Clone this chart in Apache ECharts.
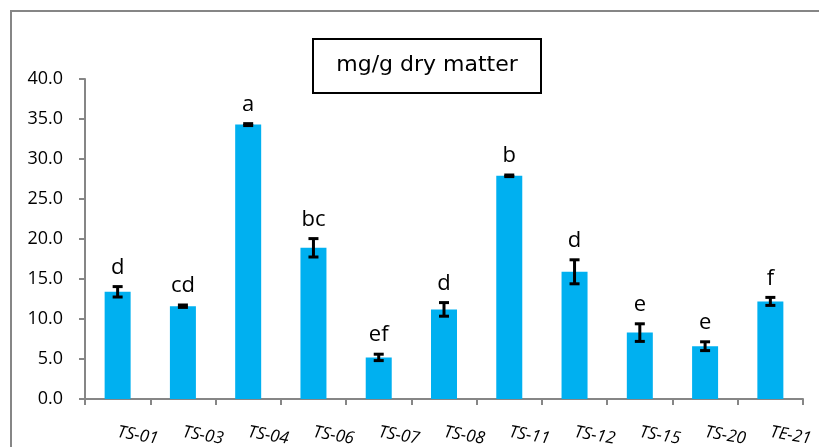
<!DOCTYPE html>
<html><head><meta charset="utf-8">
<script src="https://cdn.jsdelivr.net/npm/echarts@6/dist/echarts.min.js"></script>
<style>html,body{margin:0;padding:0;background:#fff}#c{width:819px;height:447px}</style>
</head><body><div id="c"></div>
<script>
const categories = ['TS-01','TS-03','TS-04','TS-06','TS-07','TS-08','TS-11','TS-12','TS-15','TS-20','TE-21'];
const values = [13.4, 11.6, 34.3, 18.9, 5.2, 11.2, 27.9, 15.9, 8.3, 6.6, 12.2];
const errors = [0.65, 0.15, 0.12, 1.15, 0.4, 0.85, 0.1, 1.5, 1.1, 0.55, 0.5];
const letters = ['d','cd','a','bc','ef','d','b','d','e','e','f'];
const yTicks = [0, 5, 10, 15, 20, 25, 30, 35, 40];
const titleText = 'mg/g dry matter';

const chart = echarts.init(document.getElementById('c'), null, {renderer:'canvas'});
const errData = categories.map((c,i)=>[i, values[i], errors[i], letters[i]]);
const AX = '#868686';
chart.setOption({
  animation:false,
  graphic:[
    {type:'rect', shape:{x:11,y:11,width:840,height:460}, style:{fill:'none', stroke:AX, lineWidth:2}, z:-1},
    {type:'rect', shape:{x:313,y:39,width:228,height:54}, style:{fill:'#fff', stroke:'#000', lineWidth:2}},
    {type:'text', x:427, y:65, style:{text:titleText, font:'22px "DejaVu Sans"', fill:'#000', align:'center', verticalAlign:'middle'}}
  ],
  grid:{left:85, right:16, top:79, bottom:48, containLabel:false, outerBoundsMode:'none'},
  xAxis:{type:'category', data:categories,
    axisLine:{lineStyle:{color:AX,width:2}},
    axisTick:{show:true, length:6, lineStyle:{color:AX,width:2}},
    axisLabel:{rotate:-10, margin:33, fontSize:17, fontStyle:'italic', fontFamily:'Open Sans', color:'#000'}
  },
  yAxis:{type:'value', min:yTicks[0], max:yTicks[yTicks.length-1], interval:yTicks[1]-yTicks[0],
    axisLine:{show:true, lineStyle:{color:AX,width:2}},
    axisTick:{show:true, length:6, lineStyle:{color:AX,width:2}},
    splitLine:{show:false},
    axisLabel:{formatter:v=>v.toFixed(1), fontSize:18, fontFamily:'Open Sans', color:'#000', margin:22}
  },
  series:[
    {type:'bar', data:values, barWidth:26, itemStyle:{color:'#00B0F0'}},
    {type:'custom', data:errData, encode:{x:0,y:1}, z:5,
      renderItem:function(params, api){
        const i = api.value(0), v = api.value(1), e = api.value(2);
        const top = api.coord([i, v+e]);
        const bot = api.coord([i, v-e]);
        const x = top[0], hw = 5;
        const ls = {stroke:'#000', lineWidth:3};
        return {type:'group', children:[
          {type:'line', shape:{x1:x,y1:top[1],x2:x,y2:bot[1]}, style:ls},
          {type:'line', shape:{x1:x-hw,y1:top[1],x2:x+hw,y2:top[1]}, style:ls},
          {type:'line', shape:{x1:x-hw,y1:bot[1],x2:x+hw,y2:bot[1]}, style:ls},
          {type:'text', x:x, y:top[1]-8, style:{text:letters[i], font:'22px "Open Sans"', fill:'#000', align:'center', verticalAlign:'bottom'}}
        ]};
      }
    }
  ]
});
</script></body></html>
